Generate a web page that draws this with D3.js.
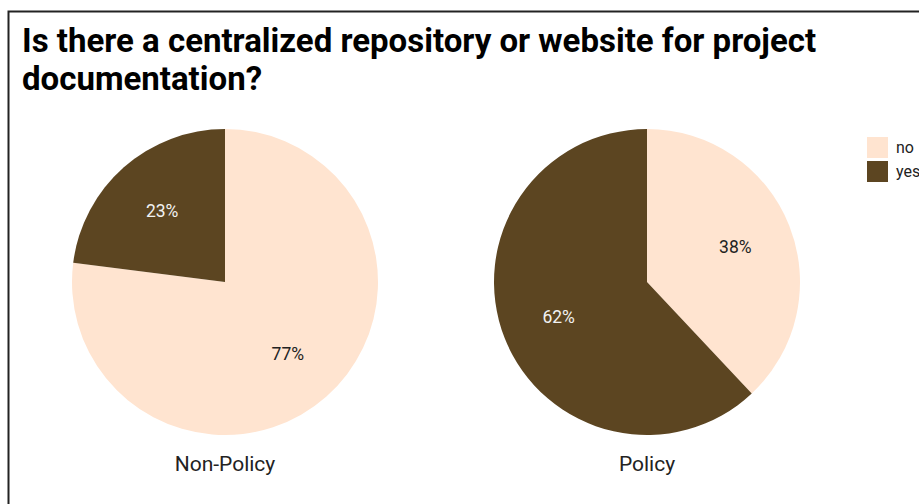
<!DOCTYPE html>
<html>
<head>
<meta charset="utf-8">
<script src="https://cdn.jsdelivr.net/npm/d3@7"></script>
<style>
  html, body { margin: 0; padding: 0; background: #fff; }
  svg { display: block; font-family: Roboto, "Noto Sans", sans-serif; }
</style>
</head>
<body>
<svg id="chart" width="919" height="504"></svg>
<script>
// Survey answers per group, in percent
const groups = ["Non-Policy", "Policy"];
const answers = ["no", "yes"];
const noValues = [77, 38];
const yesValues = [23, 62];
const titleLines = [
  "Is there a centralized repository or website for project",
  "documentation?"
];

const colors = d3.scaleOrdinal().domain(answers).range(["#ffe4d0", "#5c4521"]);
const labelColors = d3.scaleOrdinal().domain(answers).range(["#222222", "#f2f2f2"]);

const svg = d3.select("#chart");

// outer frame
svg.append("rect")
  .attr("x", 8.5).attr("y", 11.5)
  .attr("width", 1000).attr("height", 1000)
  .attr("fill", "none")
  .attr("stroke", "#222").attr("stroke-width", 2);

// title
svg.append("text")
  .attr("x", 22).attr("y", 52)
  .attr("font-size", 33).attr("font-weight", 700).attr("fill", "#000")
  .selectAll("tspan").data(titleLines).join("tspan")
  .attr("x", 22).attr("dy", (d, i) => i === 0 ? 0 : 38)
  .text(d => d);

const radius = 153;
const centerX = d3.scalePoint().domain(groups).range([225, 647]);
const centerY = 282;

const pie = d3.pie().sort(null).value(d => d.value);
const arc = d3.arc().innerRadius(0).outerRadius(radius);
const labelArc = d3.arc().innerRadius(190).outerRadius(0);

groups.forEach((g, gi) => {
  const rows = [
    { key: "no", value: noValues[gi] },
    { key: "yes", value: yesValues[gi] }
  ];
  const arcs = pie(rows);
  const gEl = svg.append("g")
    .attr("transform", `translate(${centerX(g)},${centerY})`);

  gEl.selectAll("path").data(arcs).join("path")
    .attr("d", arc)
    .attr("fill", d => colors(d.data.key));

  gEl.selectAll("text.pct").data(arcs).join("text")
    .attr("class", "pct")
    .attr("transform", d => `translate(${labelArc.centroid(d)})`)
    .attr("text-anchor", "middle")
    .attr("dy", "0.36em")
    .attr("font-size", 17.5)
    .attr("fill", d => labelColors(d.data.key))
    .text(d => d.data.value + "%");

  svg.append("text")
    .attr("x", centerX(g)).attr("y", 471)
    .attr("text-anchor", "middle")
    .attr("font-size", 21)
    .attr("fill", "#222")
    .text(g);
});

// legend
const legend = svg.append("g").attr("transform", "translate(867,137)");
const items = legend.selectAll("g").data(answers).join("g")
  .attr("transform", (d, i) => `translate(0,${i * 24})`);
items.append("rect")
  .attr("width", 21).attr("height", 21)
  .attr("fill", d => colors(d));
items.append("text")
  .attr("x", 29).attr("y", 16)
  .attr("font-size", 16)
  .attr("fill", "#222")
  .text(d => d);
</script>
</body>
</html>
